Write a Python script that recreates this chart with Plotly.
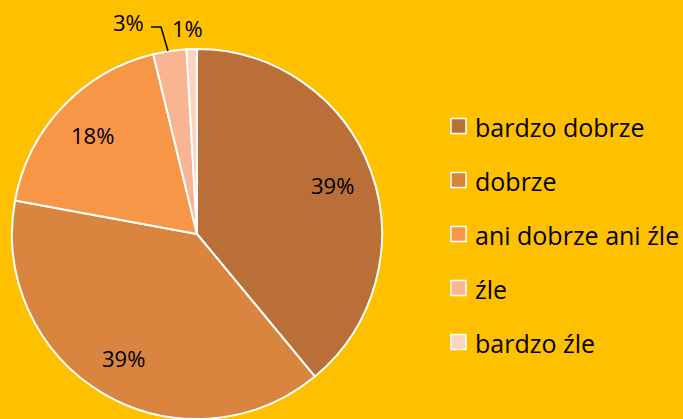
import math
import plotly.graph_objects as go

categories = ["bardzo dobrze", "dobrze", "ani dobrze ani źle", "źle", "bardzo źle"]
values = [39.0, 38.9, 18.3, 2.9, 0.9]
pct_labels = ["39%", "39%", "18%", "3%", "1%"]
colors = ["#B96F37", "#D9843F", "#F79646", "#F9B592", "#FBD4C2"]

W, H = 683, 419
CX, CY, R = 197, 234, 185
BG = "#FFC000"
FONT = "Open Sans"

fig = go.Figure()
fig.add_trace(go.Pie(
    labels=categories, values=values, sort=False, direction="clockwise",
    rotation=0, textinfo="none", hoverinfo="label+percent",
    marker=dict(colors=colors, line=dict(color="white", width=2)),
    domain=dict(x=[(CX - R) / W, (CX + R) / W], y=[(H - CY - R) / H, (H - CY + R) / H]),
    showlegend=False,
))

annotations = []
shapes = []
total = sum(values)
cum = 0.0
for i, v in enumerate(values):
    mid = (cum + v / 2) / total * 2 * math.pi
    cum += v
    if i < 3:
        f = 0.78
        xp = CX + R * f * math.sin(mid)
        yp = CY - R * f * math.cos(mid)
        annotations.append(dict(x=xp / W, y=1 - yp / H, xref="paper", yref="paper",
                                xanchor="center", yanchor="middle",
                                text=pct_labels[i], showarrow=False,
                                font=dict(family=FONT, size=22, color="black")))

# outside labels for small slices
annotations.append(dict(x=128 / W, y=1 - 22 / H, xref="paper", yref="paper", text=pct_labels[3],
                        xanchor="center", yanchor="middle",
                        showarrow=False, font=dict(family=FONT, size=22, color="black")))
annotations.append(dict(x=187 / W, y=1 - 28 / H, xref="paper", yref="paper", text=pct_labels[4],
                        xanchor="center", yanchor="middle",
                        showarrow=False, font=dict(family=FONT, size=22, color="black")))
shapes.append(dict(type="path", xref="paper", yref="paper",
                   path=f"M {151/W} {1-27/H} L {161/W} {1-27/H} L {168/W} {1-51/H}",
                   line=dict(color="black", width=1.5)))

# legend
leg_y0, leg_dy = 126, 54
for i, c in enumerate(categories):
    y = leg_y0 + i * leg_dy
    shapes.append(dict(type="rect", xref="paper", yref="paper",
                       x0=451 / W, x1=466 / W, y0=1 - (y - 7.5) / H, y1=1 - (y + 7.5) / H,
                       fillcolor=colors[i], line=dict(color="white", width=1.5)))
    annotations.append(dict(x=473 / W, y=1 - (y + 1) / H, xref="paper", yref="paper", text=c,
                            xanchor="left", yanchor="middle", showarrow=False,
                            font=dict(family=FONT, size=25, color="black")))

fig.update_layout(
    width=W, height=H, margin=dict(l=0, r=0, t=0, b=0),
    paper_bgcolor=BG, plot_bgcolor=BG,
    annotations=annotations, shapes=shapes,
)
fig.write_html("out.html", config={"displayModeBar": False},
               post_script="document.body.style.margin='0';")
